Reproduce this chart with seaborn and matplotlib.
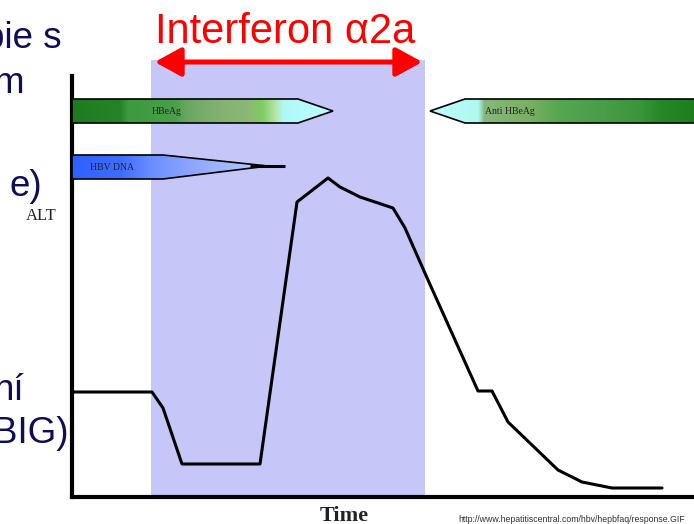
import numpy as np
import matplotlib
matplotlib.use("Agg")
import matplotlib.pyplot as plt
import seaborn as sns
import pandas as pd
from matplotlib.patches import Polygon, FancyArrowPatch
from matplotlib.colors import LinearSegmentedColormap, to_rgb

# ALT course over time (arbitrary units)
time = [0, 80, 91, 110, 188, 225, 256, 268, 288, 303, 321, 333, 356, 406, 420, 436, 486, 510, 540, 590]
alt = [105, 105, 89, 33, 33, 295, 319, 310, 300, 295, 289, 269, 217, 106, 106, 75, 27, 15, 9, 9]

# interferon treatment window
therapy_start, therapy_end = 79, 353

# serology markers
marker_labels = ["HBeAg", "HBV DNA", "Anti HBeAg"]

side_texts = ["pie s", "m", "e)", "ní", "BIG)"]
title_text = "Interferon α2a"
y_label = "ALT"
x_label = "Time"
source_text = "http://www.hepatitiscentral.com/hbv/hepbfaq/response.GIF"

W, H = 694, 524
sns.set_theme(style="white")
plt.rcParams["font.family"] = ["Liberation Sans", "DejaVu Sans"]

fig = plt.figure(figsize=(W / 100, H / 100), dpi=100)
ax = fig.add_axes([72 / W, (H - 497) / H, (W - 72) / W, (497 - 60) / H])
ax.set_xlim(0, W - 72)
ax.set_ylim(0, 437)


def px(x, y):
    """pixel position -> data coordinates"""
    return x - 72, 497 - y


def fpos(x, y):
    return x / W, 1 - y / H


# shaded therapy window
ax.axvspan(therapy_start, therapy_end, color="#c6c6f8", lw=0, zorder=0)

# ALT curve
df = pd.DataFrame({"time": time, "alt": alt})
sns.lineplot(data=df, x="time", y="alt", ax=ax, color="black", lw=2.2,
             sort=False, estimator=None, zorder=5)
ax.set_xlabel("")
ax.set_ylabel("")
ax.set_xticks([])
ax.set_yticks([])

for s in ["top", "right"]:
    ax.spines[s].set_visible(False)
ax.spines["left"].set_linewidth(3)
ax.spines["bottom"].set_linewidth(3)
ax.spines["left"].set_color("black")
ax.spines["bottom"].set_color("black")
ax.spines["left"].set_bounds(0, 421)


def gradient_shape(pts, stops, x0, x1, y0, y1):
    verts = [px(*p) for p in pts]
    poly = Polygon(verts, closed=True, fc="none", ec="black", lw=1.2, zorder=4)
    ax.add_patch(poly)
    pos = [(s[0] - stops[0][0]) / (stops[-1][0] - stops[0][0]) for s in stops]
    cmap = LinearSegmentedColormap.from_list(
        "g", list(zip(pos, [to_rgb(s[1]) for s in stops])))
    grad = np.linspace(0, 1, 512)[None, :]
    a, b = px(x0, y0)
    c, d = px(x1, y1)
    im = ax.imshow(grad, cmap=cmap, aspect="auto", extent=(a, c, d, b),
                   zorder=3, interpolation="bilinear")
    im.set_clip_path(poly)


# HBeAg bar
gradient_shape([(72, 99), (298, 99), (333, 111), (298, 123), (72, 123)],
               [(72, "#1f7a1f"), (120, "#268426"), (128, "#3d9a3d"), (175, "#4a9f4a"),
                (188, "#6aa862"), (215, "#80b070"), (248, "#8cb876"), (262, "#7ecb62"),
                (276, "#b4e6a8"), (284, "#b0f8f8"), (333, "#bcffff")],
               72, 333, 99, 123)
# Anti HBeAg bar
gradient_shape([(700, 99), (465, 99), (430, 111), (465, 123), (700, 123)],
               [(430, "#bcffff"), (478, "#b0f8f0"), (484, "#86b87c"), (530, "#78b062"),
                (560, "#55a650"), (600, "#4a9e4a"), (640, "#3a963a"), (660, "#268826"),
                (700, "#1d7d1d")],
               430, 700, 99, 123)
# HBV DNA taper
gradient_shape([(72, 155), (163, 155), (268, 166), (163, 179), (72, 179)],
               [(72, "#2f5fff"), (120, "#3f6cff"), (150, "#6a8cff"), (175, "#7f9cff"),
                (205, "#98acff"), (240, "#a8c0ff"), (268, "#c8d8ff")],
               72, 268, 155, 179)
ax.plot(*zip(px(250, 166), px(285, 166)), color="black", lw=2.2, zorder=5,
        solid_capstyle="butt")

marker_font = dict(family=["Liberation Serif", "DejaVu Serif"], fontsize=7,
                   color="#222222", va="center", ha="left", zorder=6)
ax.text(*px(152, 112), marker_labels[0], **marker_font)
ax.text(*px(90, 167), marker_labels[1], **marker_font)
ax.text(*px(485, 112), marker_labels[2], **marker_font)

# treatment arrow
arrow = FancyArrowPatch(px(152, 62), px(425, 62),
                        arrowstyle="<|-|>,head_length=1.0,head_width=0.55",
                        mutation_scale=16, color="#ff0000", lw=3.6, clip_on=False, zorder=6)
ax.add_patch(arrow)
fig.text(*fpos(285, 43), title_text, color="#ff0000", fontsize=30,
         ha="center", va="baseline")

# side text
navy = "#0d0d5a"
side_pos = [(62, 48), (24, 93), (42, 196), (24, 400), (68, 443)]
for t, (x, y) in zip(side_texts, side_pos):
    fig.text(*fpos(x, y), t, color=navy, fontsize=26.5, ha="right", va="baseline")

serif = ["Liberation Serif", "DejaVu Serif"]
fig.text(*fpos(57, 220), y_label, family=serif, fontsize=12, color="#222222",
         ha="right", va="baseline")
fig.text(*fpos(344, 521), x_label, family=serif, fontsize=16, fontweight="bold",
         color="#222222", ha="center", va="baseline")
fig.text(*fpos(458, 522), source_text, fontsize=6.3, color="#333333",
         ha="left", va="baseline")

fig.savefig("out.png", dpi=100)
